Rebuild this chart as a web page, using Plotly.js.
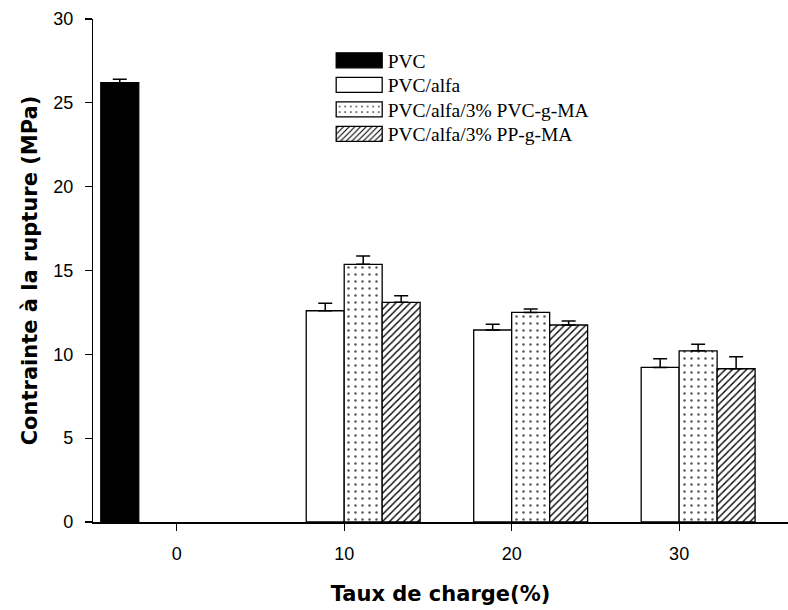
<!DOCTYPE html>
<html>
<head>
<meta charset="utf-8">
<script src="https://cdn.plot.ly/plotly-3.0.1.min.js"></script>
<style>html,body{margin:0;padding:0;background:#fff;}#chart{width:788px;height:610px;}</style>
</head>
<body>
<div id="chart"></div>
<script>
const categories = [0, 10, 20, 30];
const seriesNames = ["PVC", "PVC/alfa", "PVC/alfa/3% PVC-g-MA", "PVC/alfa/3% PP-g-MA"];
const pvc = [26.2, null, null, null];
const pvcErr = [0.2, 0, 0, 0];
const pvcAlfa = [null, 12.6, 11.45, 9.22];
const pvcAlfaErr = [0, 0.45, 0.34, 0.52];
const pvcGMA = [null, 15.37, 12.5, 10.21];
const pvcGMAErr = [0, 0.5, 0.2, 0.39];
const ppGMA = [null, 13.1, 11.75, 9.14];
const ppGMAErr = [0, 0.4, 0.24, 0.72];
const yTicks = [0, 5, 10, 15, 20, 25, 30];

const zeros = [0, 0, 0, 0];
function err(arr) {
  return {type: 'data', array: arr, arrayminus: zeros, symmetric: false,
          color: '#000', thickness: 1.5, width: 7};
}
const line = {color: '#000', width: 1.3};
const traces = [
  {type: 'bar', name: seriesNames[0], x: categories, y: pvc, error_y: err(pvcErr),
   marker: {color: '#000', line: line}},
  {type: 'bar', name: seriesNames[1], x: categories, y: pvcAlfa, error_y: err(pvcAlfaErr),
   marker: {color: '#fff', line: line}},
  {type: 'bar', name: seriesNames[2], x: categories, y: pvcGMA, error_y: err(pvcGMAErr),
   marker: {color: '#fff', line: line,
            pattern: {shape: '.', size: 7, solidity: 0.1, fgcolor: '#555', bgcolor: '#fff'}}},
  {type: 'bar', name: seriesNames[3], x: categories, y: ppGMA, error_y: err(ppGMAErr),
   marker: {color: '#fff', line: line,
            pattern: {shape: '/', size: 5, solidity: 0.28, fgcolor: '#000', bgcolor: '#fff'}}}
];

const layout = {
  width: 788, height: 610,
  margin: {l: 93, r: 0, t: 19, b: 88},
  paper_bgcolor: '#fff', plot_bgcolor: '#fff',
  barmode: 'group', bargap: 0.093, bargroupgap: 0,
  showlegend: true,
  legend: {x: 0.342, y: 0.956, xanchor: 'left', yanchor: 'top',
           font: {family: 'Liberation Serif', size: 19.5, color: '#000'},
           bgcolor: 'rgba(0,0,0,0)', itemwidth: 47, tracegroupgap: 0},
  xaxis: {range: [-5, 36.5], tickvals: categories, ticktext: categories.map(String),
          showgrid: false, zeroline: false, showline: true, linecolor: '#000', linewidth: 1.5,
          ticks: 'outside', ticklen: 7, tickwidth: 1.2, tickcolor: '#000', ticklabelstandoff: 8,
          tickfont: {family: 'Liberation Sans', size: 18, color: '#000'},
          title: {text: 'Taux de charge(%)', standoff: 23,
                  font: {family: 'DejaVu Sans', size: 21, color: '#000', weight: 'bold'}}},
  yaxis: {range: [0, 30], tickvals: yTicks,
          showgrid: false, zeroline: false, showline: true, linecolor: '#000', linewidth: 1.2,
          ticks: 'outside', ticklen: 7, tickwidth: 1.2, tickcolor: '#000', ticklabelstandoff: 8,
          tickfont: {family: 'Liberation Sans', size: 18, color: '#000'},
          title: {text: 'Contrainte à la rupture (MPa)', standoff: 9,
                  font: {family: 'DejaVu Sans', size: 21, color: '#000', weight: 'bold'}}},
  font: {family: 'Liberation Sans', color: '#000'}
};

Plotly.newPlot('chart', traces, layout, {displayModeBar: false, staticPlot: true}).then(function(gd){
  // widen legend swatches to rectangles like the original
  gd.querySelectorAll('.legend .legendpoints path').forEach(function(p){
    p.setAttribute('d', 'M23,7.5H-23V-7.5H23Z');
  });
  // tighten legend row spacing to match the original
  const items = gd.querySelectorAll('.legend .traces');
  let y0 = null;
  items.forEach(function(g, i){
    const m = /translate\(\s*([-\d.]+)[ ,]+([-\d.]+)\s*\)/.exec(g.getAttribute('transform') || '');
    if (!m) return;
    const x = parseFloat(m[1]), y = parseFloat(m[2]);
    if (y0 === null) y0 = y;
    g.setAttribute('transform', 'translate(' + x + ',' + (y0 + i * 24.5) + ')');
  });
});
</script>
</body>
</html>
